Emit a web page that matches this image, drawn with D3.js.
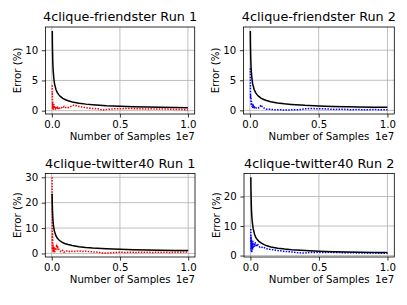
<!DOCTYPE html>
<html>
<head>
<meta charset="utf-8">
<script src="https://cdn.jsdelivr.net/npm/d3@7"></script>
<style>
  body { margin: 0; background: #fff; }
  text { font-family: "DejaVu Sans", sans-serif; }
</style>
</head>
<body>
<svg id="chart" width="407" height="305"></svg>
<script>
// ---- data (x in units of 1e7 samples, y = error in %) ----
const titles = ["4clique-friendster Run 1", "4clique-friendster Run 2", "4clique-twitter40 Run 1", "4clique-twitter40 Run 2"];
const xTicks = [0, 0.5, 1.0];
const yTicksFriendster = [0, 5, 10];
const yTicksTwitterRun1 = [0, 10, 20, 30];
const yTicksTwitterRun2 = [0, 10, 20];

// black bound curve
const boundX = [0.003, 0.004, 0.006, 0.008, 0.01, 0.015, 0.02, 0.03, 0.04, 0.05, 0.06, 0.08, 0.1, 0.12, 0.15, 0.2, 0.25, 0.3, 0.4, 0.5, 0.6, 0.7, 0.8, 0.9, 1.0];
const boundFriendster = [13.2, 10.8, 8.6, 7.3, 6.5, 5.2, 4.4, 3.5, 3.0, 2.65, 2.4, 2.04, 1.8, 1.63, 1.44, 1.22, 1.08, 0.98, 0.83, 0.74, 0.66, 0.61, 0.57, 0.53, 0.5];
const boundTwitterRun1 = [23.5, 20.3, 16.5, 14.2, 12.6, 10.2, 8.8, 7.1, 6.1, 5.5, 5.0, 4.3, 3.8, 3.5, 3.1, 2.65, 2.36, 2.15, 1.85, 1.65, 1.5, 1.38, 1.29, 1.21, 1.15];
const boundTwitterRun2 = [26.5, 22.5, 17.9, 15.2, 13.4, 10.7, 9.1, 7.2, 6.1, 5.4, 4.9, 4.2, 3.7, 3.3, 2.9, 2.5, 2.2, 1.97, 1.68, 1.48, 1.33, 1.22, 1.13, 1.06, 1.0];

// measured error of each run
const runX = [0.003, 0.0035, 0.004, 0.0045, 0.005, 0.006, 0.008, 0.010, 0.012, 0.015, 0.018, 0.021, 0.025, 0.03, 0.035, 0.04, 0.045, 0.05, 0.06, 0.07, 0.08, 0.09, 0.10, 0.11, 0.12, 0.14, 0.16, 0.18, 0.20, 0.22, 0.25, 0.28, 0.31, 0.34, 0.37, 0.40, 0.43, 0.46, 0.50, 0.54, 0.58, 0.62, 0.66, 0.70, 0.74, 0.78, 0.82, 0.86, 0.90, 0.94, 0.97, 1.0];
const friendsterRun1 = [4.2, 2.5, 3.0, 1.2, 0.3, 1.5, 0.2, 0.9, 0.1, 1.1, 0.4, 0.8, 0.2, 0.6, 0.3, 0.5, 0.2, 0.6, 0.3, 0.5, 0.4, 0.7, 0.5, 0.6, 0.5, 0.7, 0.9, 0.8, 0.7, 0.6, 0.5, 0.4, 0.35, 0.3, 0.1, 0.2, 0.25, 0.3, 0.3, 0.35, 0.35, 0.3, 0.3, 0.25, 0.3, 0.25, 0.3, 0.25, 0.2, 0.2, 0.15, 0.1];
const friendsterRun2 = [7.0, 5.5, 3.5, 2.0, 2.8, 1.5, 2.2, 0.8, 1.5, 0.6, 1.0, 0.4, 0.7, 0.3, 0.5, 0.3, 0.4, 0.3, 0.4, 0.5, 0.9, 0.6, 0.4, 0.3, 0.2, 0.2, 0.15, 0.1, 0.1, 0.1, 0.05, 0.05, 0.1, 0.1, 0.15, 0.25, 0.3, 0.3, 0.25, 0.25, 0.2, 0.15, 0.2, 0.15, 0.1, 0.15, 0.1, 0.1, 0.15, 0.1, 0.1, 0.1];
const twitterRun1 = [30, 22, 12, 6, 1.5, 8, 3, 0.5, 3.5, 1.0, 2.5, 0.3, 1.5, 2.0, 2.8, 1.5, 2.5, 1.8, 1.0, 0.6, 1.2, 0.5, 0.8, 1.0, 0.6, 1.0, 0.7, 0.9, 1.0, 0.8, 0.9, 0.7, 0.6, 0.5, 0.2, 0.1, 0.3, 0.4, 0.5, 0.4, 0.5, 0.4, 0.5, 0.5, 0.4, 0.5, 0.5, 0.4, 0.5, 0.5, 0.6, 0.6];
const twitterRun2 = [9.0, 4, 7, 1.5, 6, 2, 5.5, 1.0, 4.5, 2.0, 5.0, 2.5, 4.0, 3.0, 4.5, 3.5, 3.0, 4.0, 3.2, 2.8, 3.0, 2.6, 2.7, 2.4, 2.3, 2.1, 2.0, 1.9, 1.7, 1.6, 1.4, 1.3, 1.2, 1.0, 0.9, 0.9, 1.0, 1.0, 1.1, 1.0, 1.1, 1.0, 1.0, 0.9, 1.0, 0.9, 0.9, 0.8, 0.9, 0.8, 0.8, 0.8];

// ---- layout ----
const boxes = [
  { left: 45.5, top: 27, right: 194.7, bottom: 114 },
  { left: 243.5, top: 27, right: 394.3, bottom: 114 },
  { left: 45.3, top: 173.5, right: 195, bottom: 257 },
  { left: 244, top: 173.5, right: 394.3, bottom: 257 }
];
const panels = [
  { title: titles[0], bound: boundFriendster, run: friendsterRun1, color: "#ff0000", yTicks: yTicksFriendster },
  { title: titles[1], bound: boundFriendster, run: friendsterRun2, color: "#0000ff", yTicks: yTicksFriendster },
  { title: titles[2], bound: boundTwitterRun1, run: twitterRun1, color: "#ff0000", yTicks: yTicksTwitterRun1 },
  { title: titles[3], bound: boundTwitterRun2, run: twitterRun2, color: "#0000ff", yTicks: yTicksTwitterRun2 }
];

const tickFont = 10.2, titleFont = 12.8;
const svg = d3.select("#chart");

// matplotlib-style 5% padding
const pad = ([a, b]) => [a - 0.05 * (b - a), b + 0.05 * (b - a)];

panels.forEach((p, i) => {
  const b = boxes[i];
  const allX = boundX.concat(runX);
  const allY = p.bound.concat(p.run);
  const x = d3.scaleLinear().domain(pad(d3.extent(allX))).range([b.left, b.right]);
  const y = d3.scaleLinear().domain(pad(d3.extent(allY))).range([b.bottom, b.top]);

  const g = svg.append("g");

  // grid
  g.append("g")
    .selectAll("line")
    .data(xTicks)
    .join("line")
    .attr("x1", d => x(d)).attr("x2", d => x(d))
    .attr("y1", b.top).attr("y2", b.bottom)
    .attr("stroke", "#b0b0b0").attr("stroke-width", 0.8);
  g.append("g")
    .selectAll("line")
    .data(p.yTicks)
    .join("line")
    .attr("x1", b.left).attr("x2", b.right)
    .attr("y1", d => y(d)).attr("y2", d => y(d))
    .attr("stroke", "#b0b0b0").attr("stroke-width", 0.8);

  const clipId = "clip" + i;
  svg.append("clipPath").attr("id", clipId)
    .append("rect")
    .attr("x", b.left).attr("y", b.top)
    .attr("width", b.right - b.left).attr("height", b.bottom - b.top);

  const line = d3.line().x(d => x(d[0])).y(d => y(d[1]));

  // run (dotted)
  g.append("path")
    .attr("clip-path", `url(#${clipId})`)
    .attr("d", line(runX.map((v, k) => [v, p.run[k]])))
    .attr("fill", "none")
    .attr("stroke", p.color)
    .attr("stroke-width", 1.5)
    .attr("stroke-dasharray", "1.5,1.3");

  // bound (solid black)
  g.append("path")
    .attr("clip-path", `url(#${clipId})`)
    .attr("d", line(boundX.map((v, k) => [v, p.bound[k]])))
    .attr("fill", "none")
    .attr("stroke", "#000")
    .attr("stroke-width", 1.5);

  // axes
  const xAxis = d3.axisBottom(x).tickValues(xTicks).tickFormat(d3.format(".1f")).tickSize(3.6).tickPadding(3.6);
  const yAxis = d3.axisLeft(y).tickValues(p.yTicks).tickFormat(d3.format("d")).tickSize(3.6).tickPadding(3.6);

  const ax = g.append("g").attr("transform", `translate(0,${b.bottom})`).call(xAxis);
  const ay = g.append("g").attr("transform", `translate(${b.left},0)`).call(yAxis);
  [ax, ay].forEach(a => {
    a.select(".domain").remove();
    a.selectAll(".tick line").attr("stroke", "#000").attr("stroke-width", 0.8);
    a.selectAll(".tick text").attr("font-size", tickFont).attr("fill", "#000")
      .attr("font-family", "DejaVu Sans, sans-serif");
  });

  // frame
  g.append("rect")
    .attr("x", b.left).attr("y", b.top)
    .attr("width", b.right - b.left).attr("height", b.bottom - b.top)
    .attr("fill", "none").attr("stroke", "#000").attr("stroke-width", 0.8);

  // title
  g.append("text")
    .attr("x", (b.left + b.right) / 2).attr("y", b.top - 6)
    .attr("text-anchor", "middle").attr("font-size", titleFont)
    .text(p.title);

  // x label + offset text
  g.append("text")
    .attr("x", (b.left + b.right) / 2).attr("y", b.bottom + 26)
    .attr("text-anchor", "middle").attr("font-size", tickFont)
    .text("Number of Samples");
  g.append("text")
    .attr("x", b.right).attr("y", b.bottom + 26)
    .attr("text-anchor", "end").attr("font-size", tickFont)
    .text("1e7");

  // y label
  g.append("text")
    .attr("transform", `translate(${b.left - 24.5},${(b.top + b.bottom) / 2}) rotate(-90)`)
    .attr("text-anchor", "middle").attr("font-size", tickFont)
    .text("Error (%)");
});
</script>
</body>
</html>
